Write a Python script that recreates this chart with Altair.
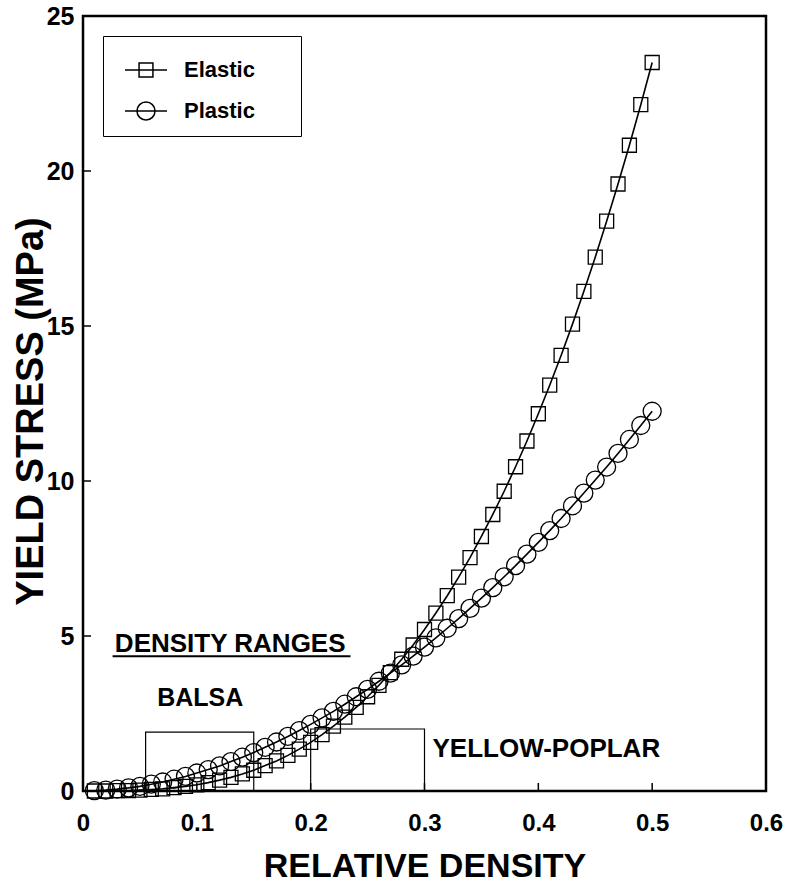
import altair as alt
import pandas as pd

# Relative density of the wood (x) and predicted yield stress in MPa (y)
density = [0.01, 0.02, 0.03, 0.04, 0.05, 0.06, 0.07, 0.08, 0.09, 0.10,
           0.11, 0.12, 0.13, 0.14, 0.15, 0.16, 0.17, 0.18, 0.19, 0.20,
           0.21, 0.22, 0.23, 0.24, 0.25, 0.26, 0.27, 0.28, 0.29, 0.30,
           0.31, 0.32, 0.33, 0.34, 0.35, 0.36, 0.37, 0.38, 0.39, 0.40,
           0.41, 0.42, 0.43, 0.44, 0.45, 0.46, 0.47, 0.48, 0.49, 0.50]

elastic = [0.00, 0.00, 0.01, 0.01, 0.03, 0.05, 0.07, 0.11, 0.15, 0.20,
           0.27, 0.35, 0.44, 0.55, 0.67, 0.82, 0.97, 1.15, 1.35, 1.57,
           1.82, 2.09, 2.38, 2.70, 3.04, 3.41, 3.82, 4.25, 4.71, 5.21,
           5.74, 6.30, 6.90, 7.53, 8.21, 8.92, 9.67, 10.46, 11.29, 12.17,
           13.09, 14.05, 15.06, 16.12, 17.22, 18.38, 19.58, 20.83, 22.14, 23.50]

plastic = [0.01, 0.03, 0.06, 0.10, 0.15, 0.22, 0.29, 0.38, 0.47, 0.58,
           0.69, 0.81, 0.95, 1.09, 1.24, 1.41, 1.58, 1.76, 1.95, 2.15,
           2.36, 2.57, 2.80, 3.04, 3.28, 3.54, 3.80, 4.07, 4.35, 4.64,
           4.94, 5.25, 5.56, 5.89, 6.22, 6.56, 6.91, 7.27, 7.64, 8.02,
           8.40, 8.79, 9.20, 9.61, 10.03, 10.45, 10.89, 11.34, 11.79, 12.25]

models = ["Elastic", "Plastic"]

# Density ranges of the two species (lower bound, upper bound, box height)
species = ["BALSA", "YELLOW-POPLAR"]
range_lo = [0.055, 0.20]
range_hi = [0.15, 0.30]
range_top = [1.9, 2.0]

x_tick_values = [0, 0.1, 0.2, 0.3, 0.4, 0.5, 0.6]
y_tick_values = [0, 5, 10, 15, 20, 25]
x_inner_ticks = [0.1, 0.2, 0.3, 0.4, 0.5]
y_inner_ticks = [5, 10, 15, 20]

FONT = "Liberation Sans"
W, H = 683, 775
KEY_SIZE = 1764  # key symbol box is sqrt(1764) = 42 px wide

curves = pd.DataFrame({
    "density": density + density,
    "stress": elastic + plastic,
    "model": [models[0]] * len(density) + [models[1]] * len(density),
})
boxes = pd.DataFrame({"density": range_lo, "density_hi": range_hi,
                      "stress": range_top, "name": species})

x_scale = alt.Scale(domain=[0, 0.6], nice=False, zero=False)
y_scale = alt.Scale(domain=[0, 25], nice=False, zero=False)

x_axis = alt.Axis(
    title="RELATIVE DENSITY", values=x_tick_values, format=".1~f",
    labelFont=FONT, labelFontSize=24, labelFontWeight="bold", labelColor="black",
    labelPadding=20, labelFlush=False, labelOverlap=False,
    ticks=False, domain=False, grid=False,
    titleFont=FONT, titleFontSize=34, titleFontWeight="bold", titleColor="black",
    titleBaseline="alphabetic", titleY=85,
)
y_axis = alt.Axis(
    title="YIELD STRESS (MPa)", values=y_tick_values, format="d",
    labelFont=FONT, labelFontSize=25, labelFontWeight="bold", labelColor="black",
    labelPadding=9, labelFlush=False, labelOverlap=False,
    ticks=False, domain=False, grid=False,
    titleFont=FONT, titleFontSize=38, titleFontWeight="bold", titleColor="black",
    titleBaseline="alphabetic", titleX=-41, titleY=395,
)

base = alt.Chart(curves)

lines = base.mark_line(color="black", strokeWidth=1.6).encode(
    x=alt.X("density:Q", scale=x_scale, axis=x_axis),
    y=alt.Y("stress:Q", scale=y_scale, axis=y_axis),
    detail="model:N",
)

squares = base.transform_filter(alt.datum.model == "Elastic").mark_point(
    shape="square", size=196, filled=False, color="black", strokeWidth=1.3, opacity=1
).encode(x="density:Q", y="stress:Q")

circles = base.transform_filter(alt.datum.model == "Plastic").mark_point(
    shape="circle", size=324, filled=False, color="black", strokeWidth=1.3, opacity=1
).encode(x="density:Q", y="stress:Q")

# Key symbols: a short line with the marker drawn across it
ELASTIC_KEY = "M-1,0H1M-0.33,-0.33H0.33V0.33H-0.33Z"
PLASTIC_KEY = "M-1,0H1M-0.43,0A0.43,0.43,0,1,0,0.43,0A0.43,0.43,0,1,0,-0.43,0Z"

key = base.transform_filter("datum.density < 0").mark_point(
    size=KEY_SIZE, filled=False, color="black", strokeWidth=1.3, opacity=1
).encode(
    x="density:Q",
    y="stress:Q",
    shape=alt.Shape(
        "model:N",
        scale=alt.Scale(domain=models, range=[ELASTIC_KEY, PLASTIC_KEY]),
        legend=alt.Legend(
            # a blank title on the right widens the key box
            title="\u00a0", titleOrient="right", titleFontSize=2,
            titlePadding=34,
            orient="none", legendX=20, legendY=20,
            strokeColor="black", fillColor="white", padding=12,
            symbolSize=KEY_SIZE, symbolStrokeWidth=1.5,
            symbolStrokeColor="black", symbolFillColor="white",
            symbolOffset=9, labelOffset=16, rowPadding=8,
            labelFont=FONT, labelFontSize=22, labelFontWeight="bold",
            labelColor="black",
        ),
    ),
)

range_boxes = alt.Chart(boxes).mark_rect(
    fillOpacity=0, stroke="black", strokeWidth=1.2
).encode(
    x="density:Q", x2="density_hi:Q", y="stress:Q", y2=alt.datum(0)
)

x_ticks = alt.Chart(pd.DataFrame({"density": x_inner_ticks})).mark_rule(
    color="black", strokeWidth=1.5
).encode(x="density:Q", y=alt.value(H), y2=alt.value(H - 8))

y_ticks = alt.Chart(pd.DataFrame({"stress": y_inner_ticks})).mark_rule(
    color="black", strokeWidth=1.5
).encode(y="stress:Q", x=alt.value(0), x2=alt.value(8))

heading = alt.Chart(pd.DataFrame({"density": [0.028], "stress": [4.74],
                                  "label": ["DENSITY RANGES"]})).mark_text(
    align="left", baseline="middle", font=FONT, fontSize=26, fontWeight="bold",
    color="black"
).encode(x="density:Q", y="stress:Q", text="label:N")

underline = alt.Chart(pd.DataFrame({"density": [0.026], "density_hi": [0.235],
                                    "stress": [4.35]})).mark_rule(
    color="black", strokeWidth=2
).encode(x="density:Q", x2="density_hi:Q", y="stress:Q")

balsa_label = alt.Chart(pd.DataFrame({"density": [0.103], "stress": [3.0],
                                      "label": [species[0]]})).mark_text(
    align="center", baseline="middle", font=FONT, fontSize=25, fontWeight="bold",
    color="black"
).encode(x="density:Q", y="stress:Q", text="label:N")

poplar_label = alt.Chart(pd.DataFrame({"density": [0.307], "stress": [1.35],
                                       "label": [species[1]]})).mark_text(
    align="left", baseline="middle", font=FONT, fontSize=26, fontWeight="bold",
    color="black"
).encode(x="density:Q", y="stress:Q", text="label:N")

chart = alt.layer(
    range_boxes, lines, squares, circles, key, x_ticks, y_ticks,
    heading, underline, balsa_label, poplar_label,
).properties(
    width=W, height=H,
    autosize=alt.AutoSizeParams(type="none"),
    padding={"left": 83, "top": 16, "right": 23, "bottom": 92},
    background="white",
).configure_view(
    stroke="black", strokeWidth=2.5
)

chart.save("out.html", embed_options={"renderer": "svg", "actions": False})
